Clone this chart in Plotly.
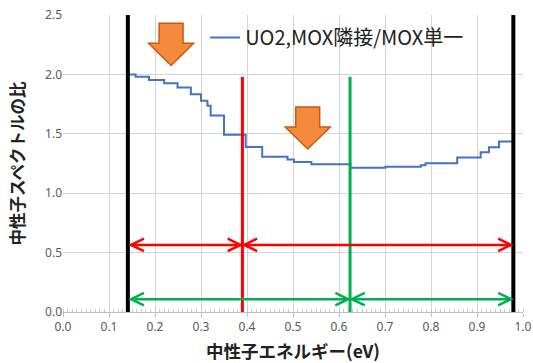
import plotly.graph_objects as go

# Step data: energy (eV) where each step begins, and the spectrum ratio held from there
energy = [0.141, 0.158, 0.187, 0.220, 0.249, 0.278, 0.300, 0.314, 0.321, 0.350,
          0.397, 0.433, 0.488, 0.502, 0.540, 0.625, 0.701, 0.778, 0.788, 0.857,
          0.908, 0.926, 0.948, 0.979]
ratio = [2.00, 1.98, 1.953, 1.925, 1.889, 1.833, 1.778, 1.736, 1.653, 1.492,
         1.389, 1.306, 1.283, 1.262, 1.244, 1.214, 1.222, 1.236, 1.253, 1.300,
         1.344, 1.386, 1.436, 1.436]
series_name = "UO2,MOX隣接/MOX単一"

# Energy group boundaries
outer_bounds = [0.141, 0.979]      # black lines
red_bound = 0.390
green_bound = 0.624
divider_top = 1.98

# Double-arrow levels
red_arrow_y = 0.565
green_arrow_y = 0.108

# Block arrow (orange) positions: tip x, top y, head y, tip y
block_arrows = [(0.235, 2.43, 2.262, 2.075), (0.532, 1.726, 1.557, 1.372)]

x_ticks = [round(i * 0.1, 1) for i in range(11)]
y_ticks = [0.0, 0.5, 1.0, 1.5, 2.0, 2.5]

fig = go.Figure()
fig.add_trace(go.Scatter(
    x=energy, y=ratio, mode="lines", line_shape="hv",
    line=dict(color="#4472C4", width=2), name=series_name))

shapes = []
# white backing behind legend
shapes.append(dict(type="rect", xref="x", yref="y", x0=0.309, x1=0.922, y0=1.99, y1=2.49,
                   fillcolor="white", line=dict(width=0), layer="below"))
for xb in outer_bounds:
    shapes.append(dict(type="line", xref="x", yref="y", x0=xb, x1=xb, y0=0, y1=2.5,
                       line=dict(color="black", width=4)))
shapes.append(dict(type="line", xref="x", yref="y", x0=red_bound, x1=red_bound, y0=0, y1=divider_top,
                   line=dict(color="#FF0000", width=3)))
shapes.append(dict(type="line", xref="x", yref="y", x0=green_bound, x1=green_bound, y0=0, y1=divider_top,
                   line=dict(color="#00B050", width=3)))

dx, dy = 0.028, 0.052


def double_arrow(x0, x1, y, color):
    out = [dict(type="line", xref="x", yref="y", x0=x0, x1=x1, y0=y, y1=y,
                line=dict(color=color, width=2.5))]
    out.append(dict(type="path", xref="x", yref="y",
                    path=f"M {x0+dx},{y+dy} L {x0},{y} L {x0+dx},{y-dy}",
                    line=dict(color=color, width=2.5)))
    out.append(dict(type="path", xref="x", yref="y",
                    path=f"M {x1-dx},{y+dy} L {x1},{y} L {x1-dx},{y-dy}",
                    line=dict(color=color, width=2.5)))
    return out


gap = 0.004
shapes += double_arrow(outer_bounds[0] + 0.007, red_bound - gap, red_arrow_y, "#FF0000")
shapes += double_arrow(red_bound + gap, outer_bounds[1] - 0.005, red_arrow_y, "#FF0000")
shapes += double_arrow(outer_bounds[0] + 0.007, green_bound - gap, green_arrow_y, "#00B050")
shapes += double_arrow(green_bound + gap, outer_bounds[1] - 0.005, green_arrow_y, "#00B050")

shaft, wing = 0.026, 0.049
for tx, ty_top, ty_head, ty_tip in block_arrows:
    p = (f"M {tx-shaft},{ty_top} L {tx+shaft},{ty_top} L {tx+shaft},{ty_head} "
         f"L {tx+wing},{ty_head} L {tx},{ty_tip} L {tx-wing},{ty_head} "
         f"L {tx-shaft},{ty_head} Z")
    shapes.append(dict(type="path", xref="x", yref="y", path=p,
                       fillcolor="#F68A3C", line=dict(color="#C55A11", width=1.5)))

fig.update_layout(
    width=533, height=363,
    margin=dict(l=63, r=10, t=15, b=51, autoexpand=False),
    paper_bgcolor="white", plot_bgcolor="white",
    shapes=shapes,
    showlegend=True,
    legend=dict(x=0.309, y=0.99, xanchor="left", yanchor="top",
                bgcolor="rgba(0,0,0,0)", itemwidth=30,
                font=dict(family="Noto Sans CJK JP", size=20, color="#222222")),
    xaxis=dict(range=[0, 1.0], tickvals=x_ticks, ticktext=[f"{v:.1f}" for v in x_ticks],
               automargin=False,
               showgrid=True, gridcolor="#D4D4D4", gridwidth=1,
               showline=True, linecolor="#BFBFBF", linewidth=1,
               ticks="outside", ticklen=4, tickcolor="#BFBFBF",
               minor=dict(dtick=0.01, ticks="inside", ticklen=3, tickcolor="#C8C8C8", showgrid=False),
               zeroline=False,
               tickfont=dict(family="Noto Sans", size=12, color="#595959"),
               title=dict(text="<b>中性子エネルギー(eV)</b>", standoff=13,
                          font=dict(family="Noto Sans CJK JP", size=17.5, color="#222222"))),
    yaxis=dict(range=[0, 2.5], tickvals=y_ticks, ticktext=[f"{v:.1f}" for v in y_ticks],
               automargin=False,
               showgrid=True, gridcolor="#D4D4D4", gridwidth=1,
               zeroline=False, ticks="", showline=False,
               tickfont=dict(family="Noto Sans", size=12, color="#595959"),
               title=dict(text="<b>中性子スペクトルの比</b>", standoff=16,
                          font=dict(family="Noto Sans CJK JP", size=16.5, color="#222222"))),
)

# remove the default 8px page margin so the 533x363 figure fills the window exactly
fig.write_html("out.html", config={"displayModeBar": False},
               post_script="document.body.style.margin='0';")
